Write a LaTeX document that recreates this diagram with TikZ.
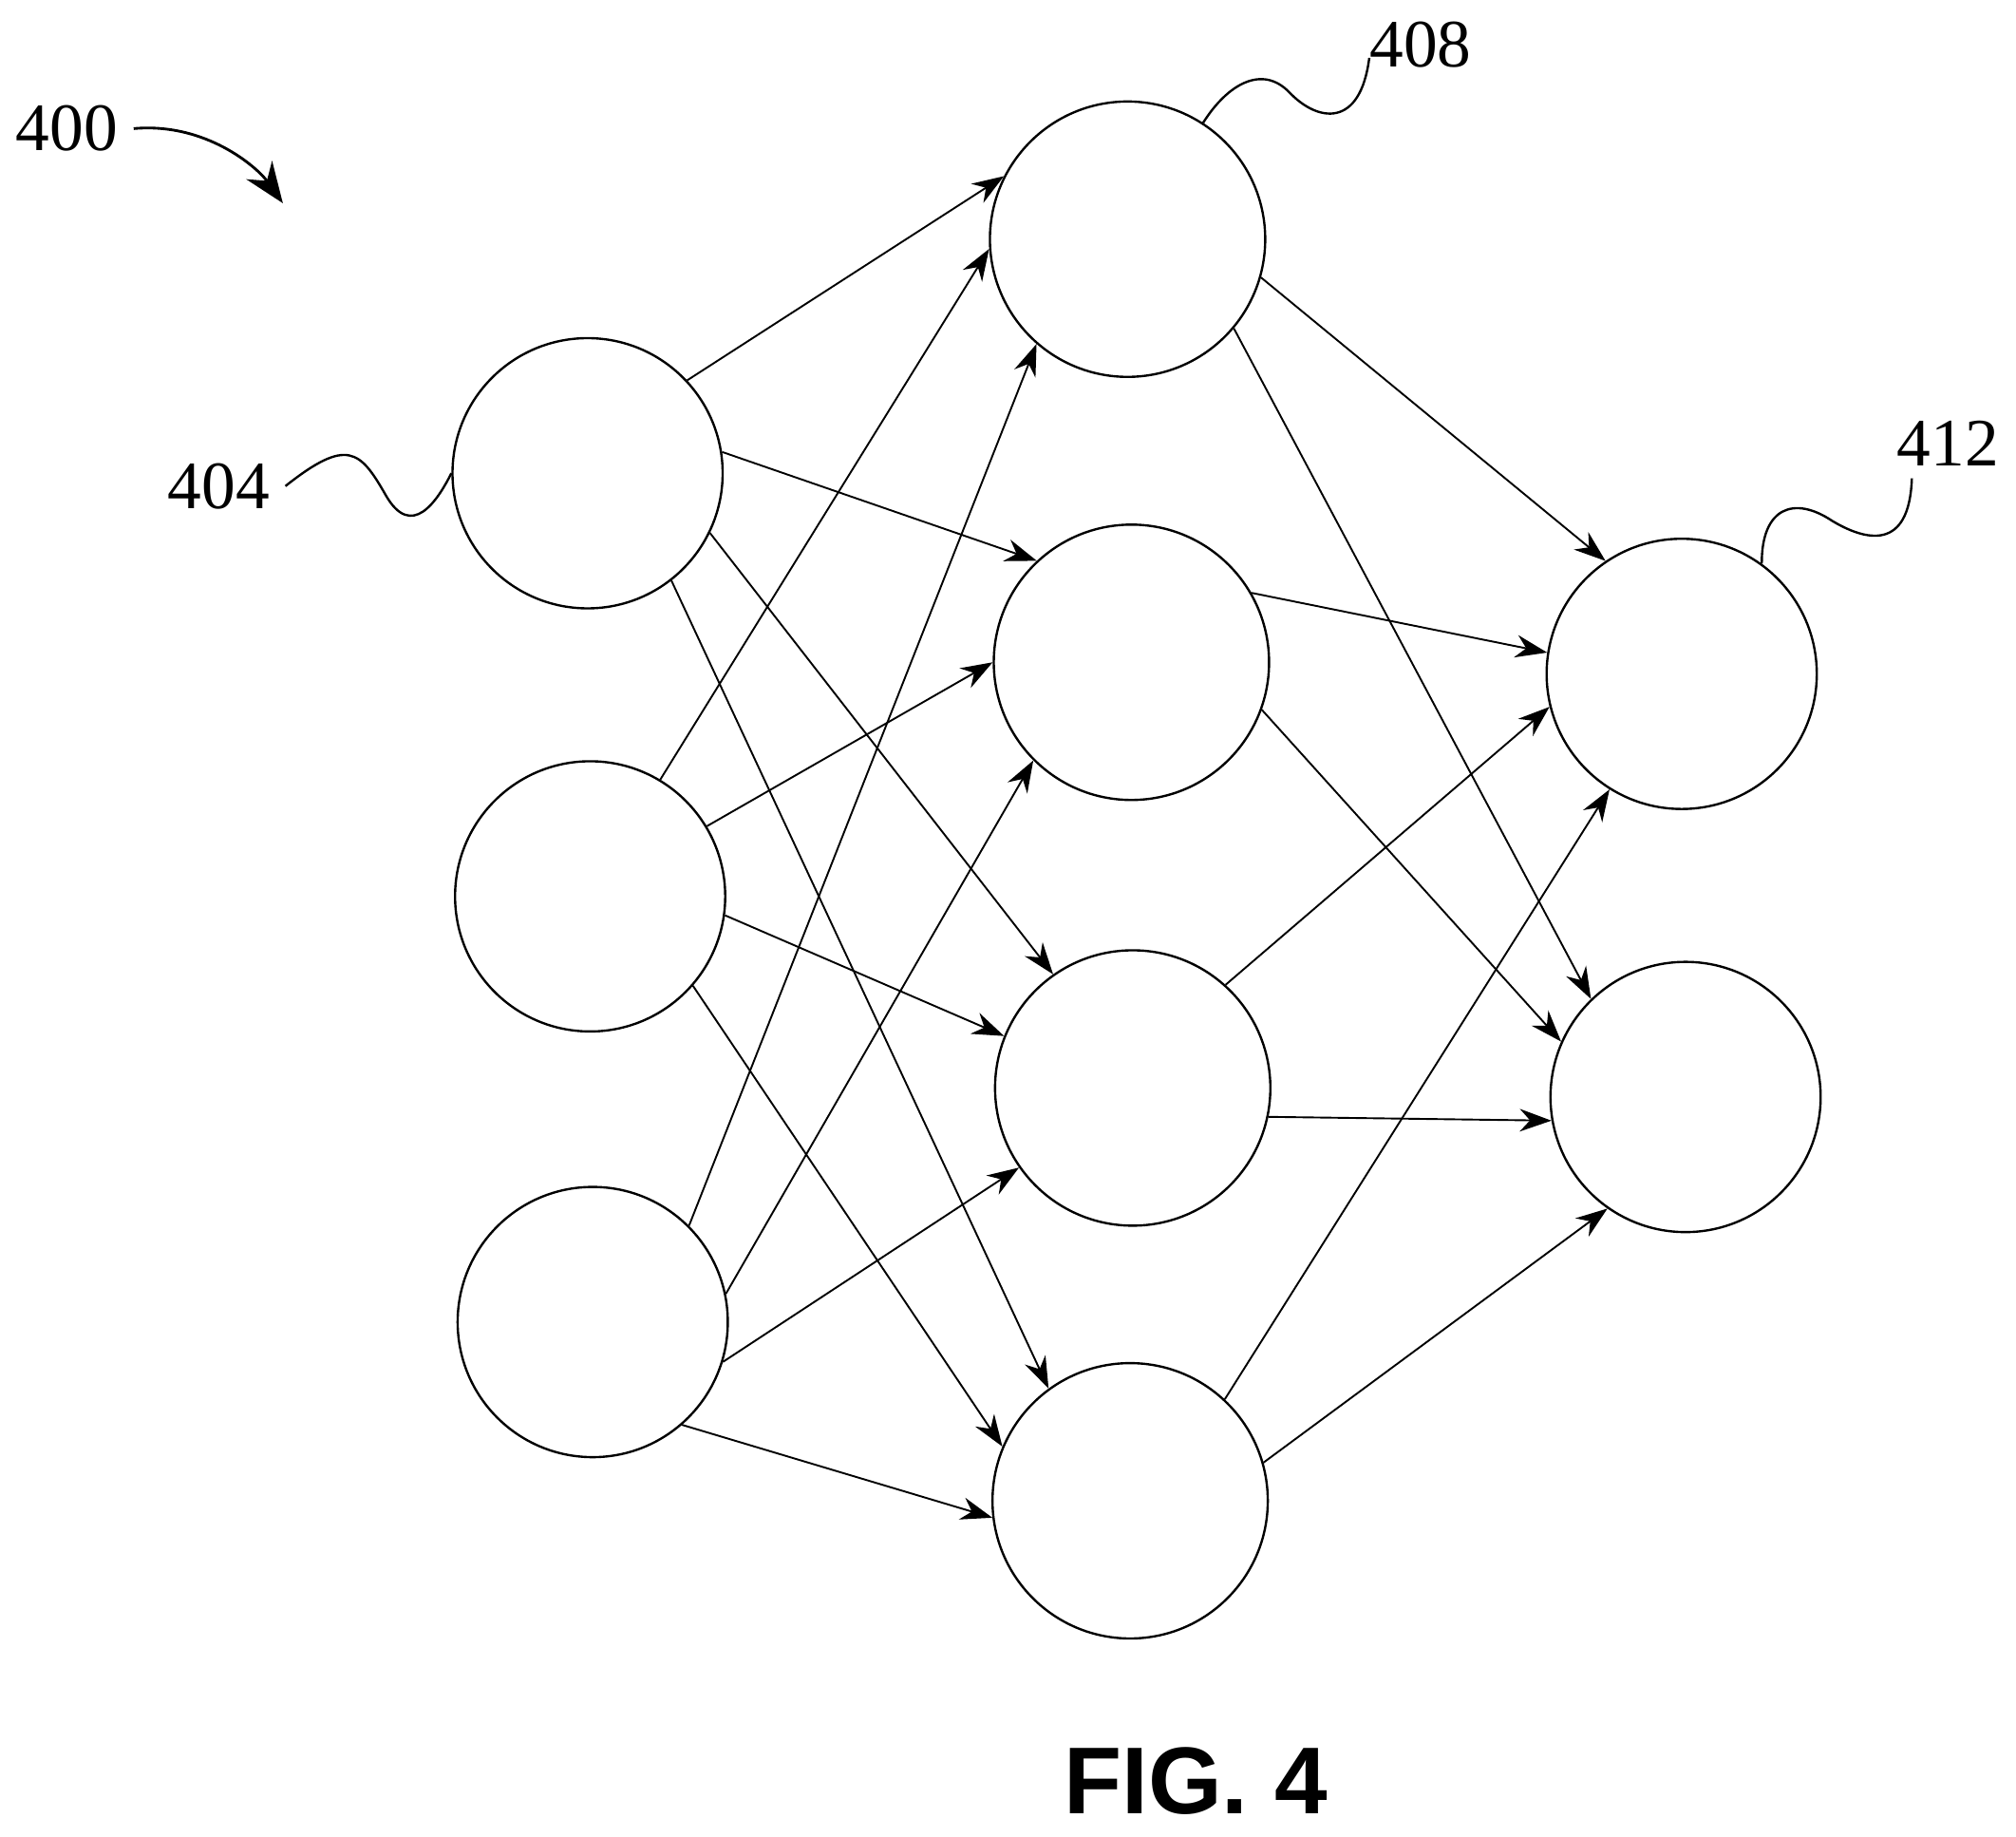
\documentclass[tikz,border=0pt]{standalone}
\usepackage{fontspec}
\setmainfont{Liberation Serif}
\newfontfamily\figfont{Liberation Sans}
\usetikzlibrary{arrows.meta}
\begin{document}
\begin{tikzpicture}[x=0.01cm,y=-0.01cm,
  neuron/.style={circle,draw,line width=0.5pt,minimum size=2.1cm,inner sep=0pt},
  hid/.style={circle,draw,line width=0.5pt,minimum size=2.14cm,inner sep=0pt},
  edge/.style={-{Stealth[length=7pt,width=5pt]},line width=0.4pt},
  lbl/.style={font=\fontsize{15}{18}\selectfont}]
\useasboundingbox (0,0) rectangle (1568,1428);
\node[neuron] (i1) at (457,368) {};
\node[neuron] (i2) at (459,697) {};
\node[neuron] (i3) at (461,1028) {};
\node[hid] (h1) at (877,186) {};
\node[hid] (h2) at (880,515) {};
\node[hid] (h3) at (881,846) {};
\node[hid] (h4) at (879,1167) {};
\node[neuron] (o1) at (1308,524) {};
\node[neuron] (o2) at (1311,853) {};
\foreach \a/\b/\c/\d in {i1/43/h1/153, i1/9/h2/133, i1/-26/h3/125, i1/-52/h4/126,
  i2/59/h1/184, i2/31/h2/180, i2/-8/h3/158, i2/-41/h4/157,
  i3/45/h1/229, i3/12/h2/225, i3/-17/h3/215, i3/-49/h4/187,
  h1/-16/o1/124, h1/-40/o2/134, h2/30/o1/171, h2/-20/o2/156,
  h3/48/o1/194, h3/-12/o2/190, h4/47/o1/238, h4/16/o2/235}
  {\draw[edge] (\a.\b) -- (\c.\d);}
\node[lbl] (l400) at (52,100) {400};
\node[lbl] (l404) at (170,378) {404};
\node[lbl] (l408) at (1105,35) {408};
\node[lbl] (l412) at (1515,345) {412};
\coordinate (a400) at (220,158);
\draw[-{Stealth[length=9pt,width=7pt]},line width=0.6pt] (l400.east) .. controls (160,95) and (200,130) .. (a400);
\draw[line width=0.5pt] (l404.east) .. controls (270,340) and (280,350) .. (300,385) .. controls (320,420) and (340,390) .. (i1.west);
\draw[line width=0.5pt] (1065,45) .. controls (1058,100) and (1025,95) .. (1003,72) .. controls (982,50) and (955,65) .. (h1.57);
\draw[line width=0.5pt] (1487,372) .. controls (1485,430) and (1450,420) .. (1425,405) .. controls (1395,385) and (1370,395) .. (o1.54);
\node[font=\figfont\bfseries\fontsize{21}{24}\selectfont] (fig) at (930,1385) {FIG. 4};
\end{tikzpicture}
\end{document}
